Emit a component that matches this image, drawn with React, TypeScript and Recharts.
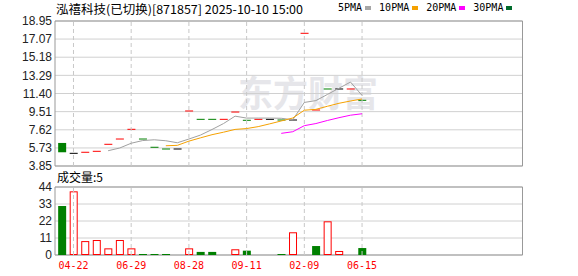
import React from 'react';
import { ComposedChart, Bar, Line, XAxis, YAxis, CartesianGrid, ReferenceLine, ReferenceArea } from 'recharts';

// daily prices (flat candles mostly, only the first one has a body)
const opens = [6.25, 5.17, 5.28, 5.38, 6.11, 6.66, 7.67, 6.66, 5.8, 5.62, 5.62, 9.58, 8.71, 8.71, 8.71, 9.47, 8.61, 8.71, 8.71, 8.64, 8.64, 17.67, 9.68, 11.87, 11.87, 11.87, 10.69];
const closes = [5.28, 5.17, 5.28, 5.38, 6.11, 6.66, 7.67, 6.66, 5.8, 5.62, 5.62, 9.58, 8.71, 8.71, 8.71, 9.47, 8.61, 8.71, 8.71, 8.64, 8.64, 17.67, 9.68, 11.87, 11.87, 11.87, 10.69];
const candleDir = ['down', 'flat', 'up', 'up', 'up', 'up', 'up', 'down', 'down', 'down', 'flat', 'up', 'down', 'down', 'up', 'up', 'down', 'up', 'flat', 'down', 'flat', 'up', 'up', 'down', 'flat', 'up', 'down'];

const volumes = [31.7, 41.2, 9.0, 9.7, 4.3, 9.7, 4.3, 0.6, 0.6, 0.6, 0.5, 4.3, 2.0, 2.0, 0.5, 3.7, 2.8, 0.5, 0.5, 0.5, 14.7, 0.5, 5.8, 21.8, 2.6, 0.5, 4.5];
const volUp = [false, true, true, true, true, true, true, false, false, false, true, true, false, false, true, true, false, true, true, false, true, true, false, true, true, true, false];

const ma5 = [null, null, null, null, 5.44, 5.72, 6.22, 6.5, 6.58, 6.48, 6.27, 6.66, 7.07, 7.65, 8.27, 9.04, 8.84, 8.84, 8.84, 8.82, 8.66, 10.47, 10.66, 11.3, 11.95, 12.59, 11.2];
const ma10 = [null, null, null, null, null, null, null, null, null, 5.96, 6.0, 6.44, 6.78, 7.11, 7.37, 7.66, 7.75, 7.95, 8.24, 8.54, 8.85, 9.66, 9.75, 10.07, 10.38, 10.62, 10.83];
const ma20 = [null, null, null, null, null, null, null, null, null, null, null, null, null, null, null, null, null, null, null, 7.25, 7.42, 8.05, 8.27, 8.59, 8.88, 9.14, 9.29];

const priceTicks = [3.85, 5.73, 7.62, 9.51, 11.4, 13.29, 15.18, 17.07, 18.95];
const volTicks = [0, 11, 22, 33, 44];
const dateTickIdx = [1, 6, 11, 16, 21, 26];
const dateLabels = ['04-22', '06-29', '08-28', '09-11', '02-09', '06-15'];

const legendNames = ['5PMA', '10PMA', '20PMA', '30PMA'];
const legendColors = ['#a6a6a6', '#f5a100', '#ff00ff', '#006b2c'];

const RED = '#ff0000';
const GREEN = '#008000';
const X_DOMAIN: [number, number] = [-0.6, 39.9];

const data = closes.map((c, i) => ({
  i,
  body: [Math.min(opens[i], c), Math.max(opens[i], c)],
  dir: candleDir[i],
  vol: volumes[i],
  up: volUp[i],
  ma5: ma5[i],
  ma10: ma10[i],
  ma20: ma20[i],
}));

const Candle = (props: any) => {
  const { x, y, width, height, payload } = props;
  const color = payload.dir === 'up' ? RED : payload.dir === 'down' ? GREEN : '#000';
  if (!height || height < 1) return <rect x={x} y={y - 0.5} width={width} height={1} fill={color} />;
  return <rect x={x} y={y} width={width} height={height} fill={color} />;
};

const VolBar = (props: any) => {
  const { x, y, width, height, payload } = props;
  const h = Math.max(height || 0, 1);
  const top = y + (height || 0) - h;
  if (payload.up) {
    return <rect x={x + 0.5} y={top + 0.5} width={width - 1} height={Math.max(h - 1, 0)} fill='#fff' stroke={RED} strokeWidth={1} />;
  }
  return <rect x={x} y={top} width={width} height={h} fill={GREEN} />;
};

const axisFont = { fontFamily: 'Liberation Sans, Arial, sans-serif', fontSize: 12, fill: '#222' };
const cjk = "'Noto Sans CJK SC', sans-serif";

export default function App() {
  return (
    <div style={{ position: 'absolute', left: 0, top: 0, width: 578, height: 276, background: '#fff' }}>
      <svg width={578} height={276} style={{ position: 'absolute', left: 0, top: 0 }}>
        <text x={238} y={107} fontFamily={cjk} fontSize={36} fontWeight={700} fill='#e6e6ea' textLength={140} lengthAdjust='spacingAndGlyphs'>
          东方财富
        </text>
        <text x={56} y={14} fontFamily={cjk} fontSize={12} fill='#000' textLength={247} lengthAdjust='spacingAndGlyphs'>
          泓禧科技(已切换)[871857] 2025-10-10 15:00
        </text>
        <text x={57} y={182} fontFamily={cjk} fontSize={12} fill='#000'>
          成交量:5
        </text>
      </svg>
      <div style={{ position: 'absolute', left: 338, top: 2, display: 'flex', alignItems: 'center', fontFamily: "'DejaVu Sans Mono', monospace", fontSize: 10, color: '#000' }}>
        {legendNames.map((n, k) => (
          <span key={n} style={{ display: 'flex', alignItems: 'center', marginLeft: k === 0 ? 0 : 8 }}>
            <span>{n}</span>
            <span style={{ display: 'inline-block', width: 6, height: 4, marginLeft: 3, background: legendColors[k] }} />
          </span>
        ))}
      </div>

      <div style={{ position: 'absolute', left: 0, top: 0 }}>
        <ComposedChart width={578} height={180} data={data} margin={{ top: 21, right: 55.5, left: 0, bottom: 14 }}>
          <CartesianGrid vertical={false} stroke='#d0d0d0' />
          <XAxis type='number' dataKey='i' domain={X_DOMAIN} allowDataOverflow ticks={dateTickIdx} hide />
          <YAxis
            type='number'
            domain={[3.85, 18.95]}
            ticks={priceTicks}
            allowDataOverflow
            width={55}
            axisLine={false}
            tickLine={false}
            tickSize={0}
            tickMargin={3}
            interval={0}
            tick={axisFont}
            tickFormatter={(v: number) => v.toFixed(2)}
          />
          {dateTickIdx.map((t) => (
            <ReferenceLine key={t} x={t} stroke='#c8c8c8' strokeDasharray='4 3' />
          ))}
          <ReferenceArea x1={X_DOMAIN[0]} x2={X_DOMAIN[1]} y1={3.85} y2={18.95} fill='none' stroke='#999' strokeWidth={1} ifOverflow='visible' />
          <Bar dataKey='body' barSize={8} shape={Candle} isAnimationActive={false} />
          <Line type='linear' dataKey='ma5' stroke='#a0a0a0' strokeWidth={1} dot={false} activeDot={false} isAnimationActive={false} />
          <Line type='linear' dataKey='ma10' stroke='#f5a100' strokeWidth={1} dot={false} activeDot={false} isAnimationActive={false} />
          <Line type='linear' dataKey='ma20' stroke='#ff00ff' strokeWidth={1} dot={false} activeDot={false} isAnimationActive={false} />
        </ComposedChart>
      </div>

      <div style={{ position: 'absolute', left: 0, top: 180 }}>
        <ComposedChart width={578} height={96} data={data} margin={{ top: 7, right: 55.5, left: 0, bottom: 0 }}>
          <CartesianGrid vertical={false} stroke='#d0d0d0' />
          <XAxis
            type='number'
            dataKey='i'
            domain={X_DOMAIN}
            allowDataOverflow
            ticks={dateTickIdx}
            interval={0}
            height={21}
            axisLine={false}
            tickLine={false}
            tickSize={0}
            tickMargin={7}
            tick={{ fontFamily: "'DejaVu Sans Mono', monospace", fontSize: 10, fill: RED }}
            tickFormatter={(v: number) => dateLabels[dateTickIdx.indexOf(v)] ?? ''}
          />
          <YAxis
            type='number'
            domain={[0, 44]}
            ticks={volTicks}
            allowDataOverflow
            width={55}
            axisLine={false}
            tickLine={false}
            tickSize={0}
            tickMargin={3}
            interval={0}
            tick={axisFont}
          />
          {dateTickIdx.map((t) => (
            <ReferenceLine key={t} x={t} stroke='#c8c8c8' strokeDasharray='4 3' />
          ))}
          <ReferenceArea x1={X_DOMAIN[0]} x2={X_DOMAIN[1]} y1={0} y2={44} fill='none' stroke='#999' strokeWidth={1} ifOverflow='visible' />
          <Bar dataKey='vol' barSize={8} shape={VolBar} isAnimationActive={false} />
        </ComposedChart>
      </div>
    </div>
  );
}
